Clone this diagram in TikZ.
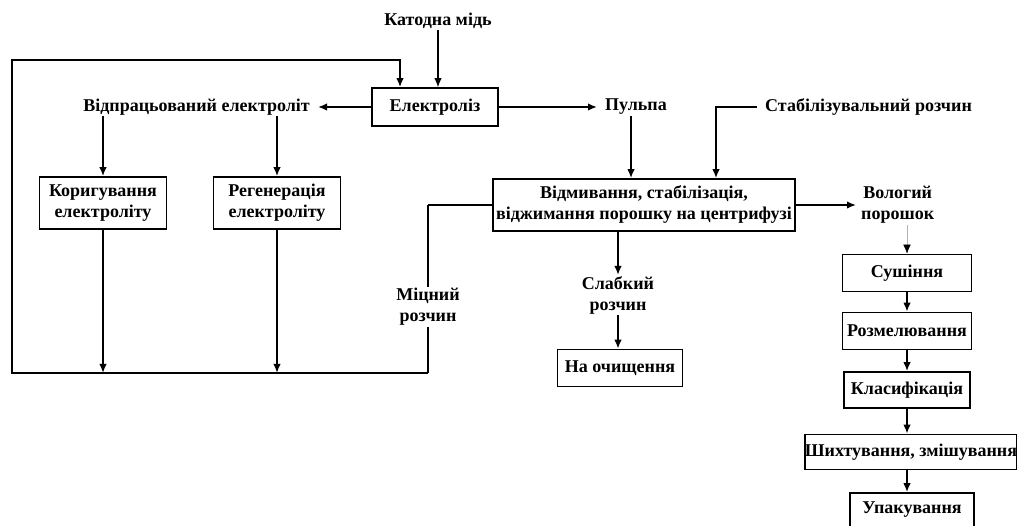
\documentclass[tikz,border=0pt]{standalone}
\usepackage{fontspec}
\setmainfont{Liberation Serif}
\usetikzlibrary{arrows.meta,calc}
\newcommand\dfont{\fontsize{18}{21}\selectfont}
\begin{document}
\begin{tikzpicture}[x=1pt,y=-1pt,
  box/.style={draw,line width=1.7pt,fill=white,inner sep=0pt,font=\dfont\bfseries,align=center},
  lbl/.style={inner sep=1pt,font=\dfont\bfseries,align=center},
  arr/.style={-{Latex[length=9pt,width=7.5pt]},line width=1.7pt},
  tarr/.style={-{Latex[length=9pt,width=7.5pt]},line width=1.1pt},
  farr/.style={-{Latex[length=9pt,width=7.5pt,color=black]},line width=0.5pt,draw=black!30},
  tline/.style={line width=1.1pt},
  line/.style={line width=1.7pt}]
\useasboundingbox (0,0) rectangle (1017,526);

% nodes
\node[lbl] (kat) at (438,21) {Катодна мідь};
\node[box,minimum width=126pt,minimum height=38pt] (el) at (435,107) {Електроліз};
\node[lbl,anchor=east] (vid) at (311,107) {Відпрацьований електроліт};
\node[lbl,anchor=west] (pul) at (604,107) {Пульпа};
\node[lbl,anchor=west] (stab) at (764,107) {Стабілізувальний розчин};
\node[box,minimum width=127pt,minimum height=52pt] (kor) at (103,203) {Коригування\\електроліту};
\node[box,minimum width=127pt,minimum height=52pt] (reg) at (277,203) {Регенерація\\електроліту};
\node[box,minimum width=302pt,minimum height=52pt] (big) at (644,205) {Відмивання, стабілізація,\\віджимання порошку на центрифузі};
\node[lbl,anchor=west] (vol) at (860,205) {Вологий\\порошок};
\node[lbl] (mc) at (428,307) {Міцний\\розчин};
\node[lbl] (sl) at (618,295) {Слабкий\\розчин};
\node[box,minimum width=125pt,minimum height=37pt] (och) at (620,368) {На очищення};
\node[box,minimum width=129pt,minimum height=37pt] (sush) at (907,273) {Сушіння};
\node[box,minimum width=129pt,minimum height=37pt] (rozm) at (907,331) {Розмелювання};
\node[box,minimum width=126pt,minimum height=36pt] (klas) at (907,390) {Класифікація};
\node[box,minimum width=210pt,minimum height=35pt] (shyh) at (911,452) {Шихтування, змішування};
\node[box,minimum width=124pt,minimum height=34pt] (upak) at (912,510) {Упакування};

\coordinate (bl) at (12,373);
\coordinate (tl) at (12,60);
\coordinate (fb) at (400,60);
\coordinate (mcc) at (428,205);
\coordinate (sc) at (716,107);

% connectors
\draw[tarr] (kat.south) -- (kat.south |- el.north);
\draw[arr] (el.west) -- ([xshift=7pt]vid.east);
\draw[arr] (el.east) -- ([xshift=-7pt]pul.west);
\draw[arr] (vid.south -| kor.north) -- (kor.north);
\draw[arr] (vid.south -| reg.north) -- (reg.north);
\draw[arr] (pul.south -| 631,0) -- (big.north -| 631,0);
\draw[arr] ([xshift=-7pt]stab.west) -| (sc |- big.north);
\draw[arr] (big.east) -- ([xshift=-4pt]vol.west);
\draw[farr] (vol.south -| sush.north) -- (sush.north);
\draw[arr] (big.south -| sl.north) -- (sl.north);
\draw[arr] (sl.south) -- (sl.south |- och.north);
\draw[arr] (sush) -- (rozm);
\draw[arr] (rozm) -- (klas);
\draw[arr] (klas) -- (klas |- shyh.north);
\draw[arr] (klas |- shyh.south) -- (klas |- upak.north);
\draw[line] (big.west) -- (mcc);
\draw[tline] (mcc) -- (mc.north);
\draw[tline] (mc.south) -- (mc.south |- bl);
\draw[arr] (mc.south |- bl) -- (bl) -- (tl) -- (fb) -- (fb |- el.north);
\draw[arr] (kor.south) -- (kor.south |- bl);
\draw[arr] (reg.south) -- (reg.south |- bl);
\end{tikzpicture}
\end{document}
